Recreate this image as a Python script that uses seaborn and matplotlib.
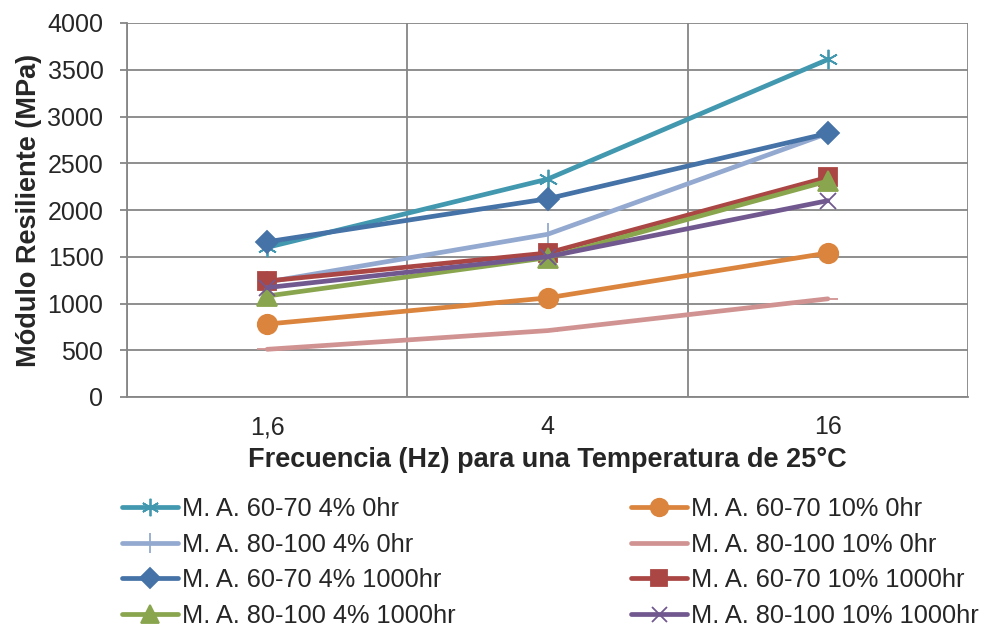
import numpy as np
import pandas as pd
import seaborn as sns
import matplotlib
matplotlib.use("Agg")
import matplotlib.pyplot as plt
from matplotlib import font_manager
from matplotlib.ticker import FixedLocator, MultipleLocator

# ---- data -------------------------------------------------------------
frecuencias = ["1,6", "4", "16"]
series_names = [
    "M. A. 60-70 4% 0hr",
    "M. A. 60-70 10% 0hr",
    "M. A. 80-100 4% 0hr",
    "M. A. 80-100 10% 0hr",
    "M. A. 60-70 4% 1000hr",
    "M. A. 60-70 10% 1000hr",
    "M. A. 80-100 4% 1000hr",
    "M. A. 80-100 10% 1000hr",
]
ma_6070_4_0 = [1600, 2330, 3610]
ma_6070_10_0 = [780, 1060, 1540]
ma_80100_4_0 = [1230, 1740, 2820]
ma_80100_10_0 = [510, 710, 1050]
ma_6070_4_1000 = [1660, 2120, 2820]
ma_6070_10_1000 = [1240, 1540, 2350]
ma_80100_4_1000 = [1080, 1490, 2310]
ma_80100_10_1000 = [1170, 1500, 2100]
values = [ma_6070_4_0, ma_6070_10_0, ma_80100_4_0, ma_80100_10_0,
          ma_6070_4_1000, ma_6070_10_1000, ma_80100_4_1000, ma_80100_10_1000]

# ---- styles -----------------------------------------------------------
colors = ["#4198AF", "#DB843D", "#93A9CF", "#D19392",
          "#4572A7", "#AA4643", "#89A54E", "#71588F"]
markers = [(6, 2, 0), "o", "|", "_", "D", "s", "^", "x"]
msizes = [14, 14, 16, 14, 11, 13, 14, 12]

def pick_font(name, fallback):
    try:
        font_manager.findfont(name, fallback_to_default=False)
        return name
    except Exception:
        return fallback

regular = pick_font("Liberation Sans", "DejaVu Sans")

sns.set_theme(style="white")
plt.rcParams["font.family"] = [regular, "DejaVu Sans"]

df = pd.DataFrame({
    "pos": np.tile(np.arange(len(frecuencias)), len(series_names)),
    "modulo": np.concatenate(values),
    "serie": np.repeat(series_names, len(frecuencias)),
})

fig = plt.figure(figsize=(9.92, 6.27), dpi=100)
ax = fig.add_axes([127 / 992, 1 - 397 / 627, (968 - 127) / 992, (397 - 23) / 627])

grid_c = "#868686"
handles = []
for i, name in enumerate(series_names):
    sub = df[df["serie"] == name]
    sns.lineplot(data=sub, x="pos", y="modulo", ax=ax, color=colors[i],
                 linewidth=3.4, marker=markers[i], markersize=msizes[i],
                 markeredgecolor=colors[i], markerfacecolor=colors[i],
                 markeredgewidth=1.3, legend=False, zorder=3 + i)
    handles.append(ax.lines[-1])

ax.set_xlim(-0.5, 2.5)
ax.set_ylim(0, 4000)
ax.yaxis.set_major_locator(MultipleLocator(500))
ax.xaxis.set_major_locator(FixedLocator(range(len(frecuencias))))
ax.set_xticklabels(frecuencias, fontsize=18)
ax.xaxis.set_minor_locator(FixedLocator([-0.5, 0.5, 1.5, 2.5]))
ax.tick_params(axis="x", which="major", length=0, pad=13)
ax.tick_params(axis="x", which="minor", length=7, width=1.3, color=grid_c, direction="out")
ax.tick_params(axis="y", which="major", length=5, width=1.3, color=grid_c,
               direction="out", labelsize=18, pad=12, left=True)

ax.grid(axis="y", which="major", color=grid_c, linewidth=1.3)
ax.grid(axis="x", which="minor", color=grid_c, linewidth=1.3)
ax.grid(axis="x", which="major", visible=False)
ax.set_axisbelow(True)
for side in ["left", "bottom"]:
    ax.spines[side].set_color(grid_c)
    ax.spines[side].set_linewidth(1.3)
for side in ["top", "right"]:
    ax.spines[side].set_visible(False)

ax.set_xlabel("Frecuencia (Hz) para una Temperatura de 25°C",
              fontweight="bold", fontsize=19.5, labelpad=6)
ax.set_ylabel("Módulo Resiliente (MPa)", fontweight="bold", fontsize=19.5, labelpad=4)

leg_size = 18.3
leg_kw = dict(frameon=False, handlelength=2.2, handletextpad=0.15,
              labelspacing=0.46, borderpad=0, borderaxespad=0,
              prop={"family": regular, "size": leg_size})
cols = [[0, 2, 4, 6], [1, 3, 5, 7]]
anchors = [(122 / 992, 1 - 497 / 627), (631 / 992, 1 - 497 / 627)]
for idx, anc in zip(cols, anchors):
    leg = fig.legend([handles[k] for k in idx], [series_names[k] for k in idx],
                     loc="upper left", bbox_to_anchor=anc, **leg_kw)
    for h in leg.legend_handles:
        h.set_markersize(h.get_markersize() * 0.9)

fig.savefig("out.png", dpi=100)
